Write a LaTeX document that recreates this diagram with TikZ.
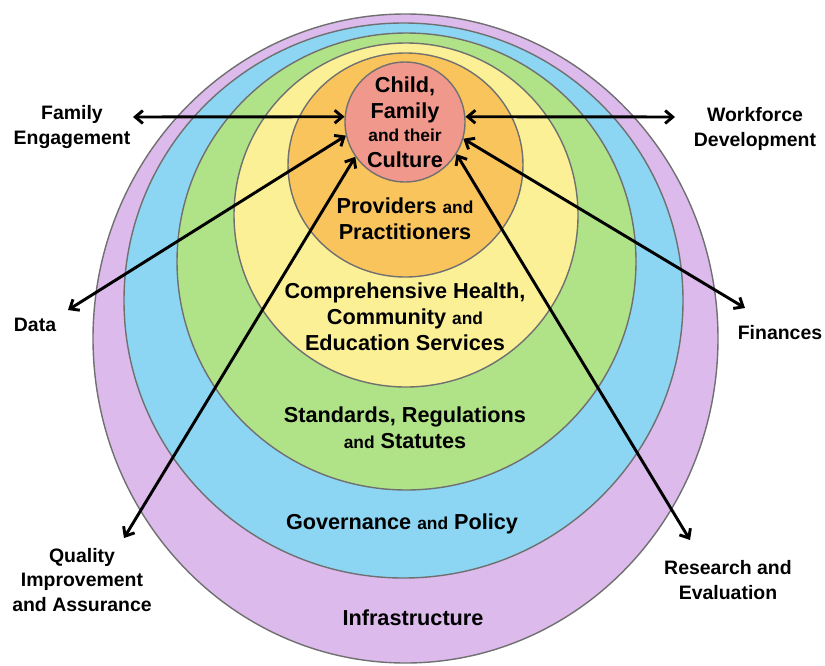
\documentclass[tikz,border=0pt]{standalone}
\usepackage{fontspec}
\setmainfont{Liberation Sans}
\usetikzlibrary{arrows.meta}

\definecolor{ringpurple}{RGB}{220,186,236}
\definecolor{ringblue}{RGB}{140,214,244}
\definecolor{ringgreen}{RGB}{176,226,136}
\definecolor{ringyellow}{RGB}{251,240,150}
\definecolor{ringorange}{RGB}{250,196,92}
\definecolor{ringpink}{RGB}{240,152,140}
\definecolor{ringedge}{RGB}{112,112,112}

\newcommand{\bigtxt}{\fontsize{18.5}{22}\selectfont}
\newcommand{\andtxt}{\fontsize{14.8}{22}\selectfont}

\begin{document}
\begin{tikzpicture}[x=0.3mm, y=-0.3mm, line cap=round, line join=round,
		font=\bfseries,
		ring/.style={draw=ringedge, line width=1.2pt},
		conn/.style={line width=2.5pt, {Straight Barb[length=6.5pt,width=11pt]}-{Straight Barb[length=6.5pt,width=11pt]}},
		ringlabel/.style={align=center, font=\bfseries\bigtxt},
		sidelabel/.style={align=center, font=\bfseries\fontsize{16.6}{21}\selectfont}]
	
	\useasboundingbox (0,0) rectangle (825,665);
	
	%========================
	% nested rings
	%========================
	\draw[ring, fill=ringpurple] (405.5,338.5) ellipse [x radius=312.5, y radius=324.5];
	\draw[ring, fill=ringblue] (403.5,300.5) ellipse [x radius=279.5, y radius=277.5];
	\draw[ring, fill=ringgreen] (406.5,261.5) ellipse [x radius=229.5, y radius=228.5];
	\draw[ring, fill=ringyellow] (406,215) ellipse [x radius=172, y radius=172];
	\draw[ring, fill=ringorange] (405.5,165) ellipse [x radius=117.5, y radius=112];
	
	% centre circle
	\node[circle, ring, fill=ringpink, minimum size=36mm, inner sep=0pt,
	align=center, font=\bfseries\bigtxt] (child) at (405,122)
	{Child,\\Family\\[-2pt]{\andtxt and their}\\Culture};
	
	% ring texts
	\node[ringlabel] (prov) at (405,219) {Providers {\andtxt and}\\Practitioners};
	\node[ringlabel] (serv) at (405,317) {Comprehensive Health,\\Community {\andtxt and}\\Education Services};
	\node[ringlabel] (stand) at (405,428) {Standards, Regulations\\{\andtxt and} Statutes};
	\node[ringlabel] (gov) at (402,524) {Governance {\andtxt and} Policy};
	\node[ringlabel] (infra) at (413,618) {Infrastructure};
	
	%========================
	% side labels
	%========================
	\node[sidelabel] (fam) at (72,127) {Family\\Engagement};
	\node[sidelabel] (work) at (755,129) {Workforce\\Development};
	\node[sidelabel] (data) at (35,325) {Data};
	\node[sidelabel] (fin) at (780,333) {Finances};
	\node[sidelabel] (qual) at (82,580) {Quality\\Improvement\\and Assurance};
	\node[sidelabel] (res) at (728,580) {Research and\\Evaluation};
	
	% free arrow ends
	\coordinate (famend) at (133,117);
	\coordinate (workend) at (675,117);
	\coordinate (dataend) at (68,310);
	\coordinate (finend) at (745,308);
	\coordinate (qualend) at (124,538);
	\coordinate (resend) at (690,540);
	
	% connectors
	\draw[conn] (famend) -- (child.175);
	\draw[conn] (workend) -- (child.5);
	\draw[conn] (dataend) -- (child.193);
	\draw[conn] (finend) -- (child.344);
	\draw[conn] (qualend) -- (child.215);
	\draw[conn] (resend) -- (child.328);
	
\end{tikzpicture}
\end{document}
